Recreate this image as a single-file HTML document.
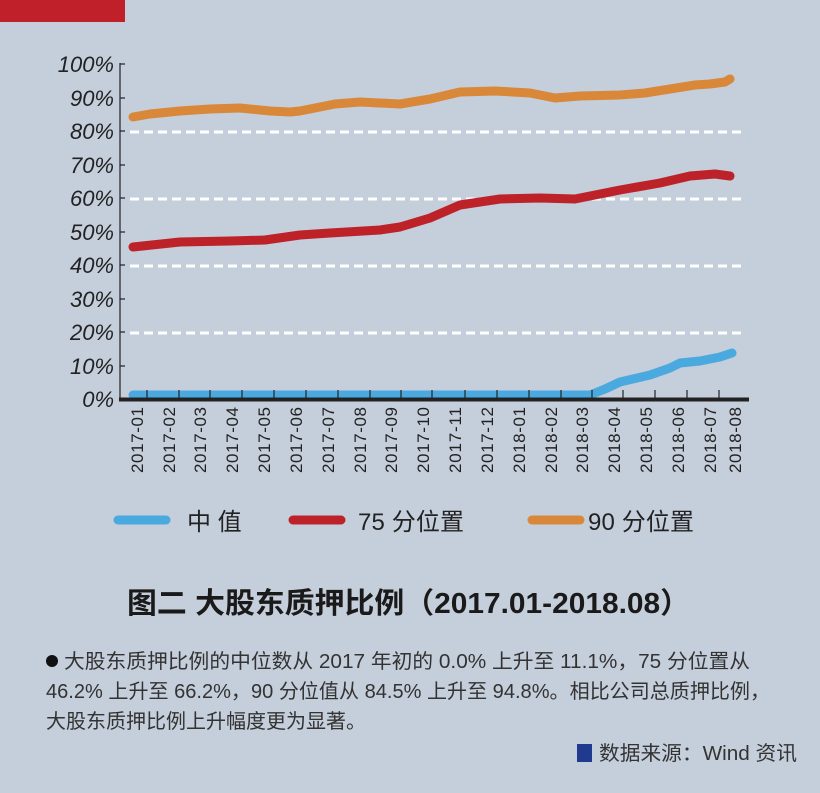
<!DOCTYPE html>
<html><head><meta charset="utf-8"><style>
html,body{margin:0;padding:0;background:#c5cedb;}
svg{display:block}
</style></head><body>
<svg width="820" height="793" xmlns="http://www.w3.org/2000/svg" font-family="'Liberation Sans','Noto Sans CJK SC',sans-serif">
<rect width="820" height="793" fill="#c5cedb"/>
<rect x="0" y="0" width="125" height="22" fill="#c0202a"/>
<g font-size="22" font-style="italic" fill="#222" text-anchor="end">
<text x="114" y="407">0%</text><text x="114" y="374">10%</text><text x="114" y="340">20%</text><text x="114" y="307">30%</text><text x="114" y="273">40%</text><text x="114" y="240">50%</text><text x="114" y="206">60%</text><text x="114" y="173">70%</text><text x="114" y="139">80%</text><text x="114" y="106">90%</text><text x="114" y="72">100%</text>
</g>
<g stroke="#222" stroke-width="1.2">
<line x1="120" y1="63" x2="120" y2="399"/>
<line x1="120" y1="64" x2="125" y2="64"/><line x1="120" y1="98" x2="125" y2="98"/><line x1="120" y1="131" x2="125" y2="131"/><line x1="120" y1="165" x2="125" y2="165"/><line x1="120" y1="198" x2="125" y2="198"/><line x1="120" y1="232" x2="125" y2="232"/><line x1="120" y1="265" x2="125" y2="265"/><line x1="120" y1="299" x2="125" y2="299"/><line x1="120" y1="332" x2="125" y2="332"/><line x1="120" y1="366" x2="125" y2="366"/>
</g>
<g stroke="#fff" stroke-width="3" stroke-dasharray="9,5">
<line x1="130" y1="132" x2="746" y2="132"/><line x1="130" y1="199" x2="746" y2="199"/><line x1="130" y1="266" x2="746" y2="266"/><line x1="130" y1="333" x2="746" y2="333"/>
</g>
<g fill="none" stroke-width="9" stroke-linecap="round" stroke-linejoin="round">
<polyline stroke="#d9883a" points="133,117 150,114 180,111 210,109 240,108 270,111 290,112 300,111 335,104 360,102 400,104 430,99 460,92 495,91 530,93 555,98 580,96 620,95 645,93 670,89 695,85 710,84 725,82 730,79"/>
<polyline stroke="#bd2229" points="133,247 180,242 230,241 265,240 300,235 330,233 380,230 400,227 430,218 460,205 500,199 540,198 575,199 620,190 660,183 690,176 715,174 730,176"/>
<polyline stroke="#4aaae0" points="133,395 590,395 605,389 620,382 650,375 670,368 680,363 700,361 720,357 732,353"/>
</g>
<line x1="119" y1="399.5" x2="749" y2="399.5" stroke="#222" stroke-width="4"/>
<g stroke="#222" stroke-width="1.2">
<line x1="147" y1="390" x2="147" y2="398"/><line x1="179" y1="390" x2="179" y2="398"/><line x1="210" y1="390" x2="210" y2="398"/><line x1="242" y1="390" x2="242" y2="398"/><line x1="274" y1="390" x2="274" y2="398"/><line x1="306" y1="390" x2="306" y2="398"/><line x1="338" y1="390" x2="338" y2="398"/><line x1="370" y1="390" x2="370" y2="398"/><line x1="401" y1="390" x2="401" y2="398"/><line x1="432" y1="390" x2="432" y2="398"/><line x1="465" y1="390" x2="465" y2="398"/><line x1="497" y1="390" x2="497" y2="398"/><line x1="529" y1="390" x2="529" y2="398"/><line x1="561" y1="390" x2="561" y2="398"/><line x1="592" y1="390" x2="592" y2="398"/><line x1="623" y1="390" x2="623" y2="398"/><line x1="655" y1="390" x2="655" y2="398"/><line x1="687" y1="390" x2="687" y2="398"/><line x1="719" y1="390" x2="719" y2="398"/>
</g>
<g font-size="17" fill="#222" text-anchor="end">
<text transform="translate(143,407) rotate(-90)" textLength="66">2017-01</text>
<text transform="translate(175,407) rotate(-90)" textLength="66">2017-02</text>
<text transform="translate(206,407) rotate(-90)" textLength="66">2017-03</text>
<text transform="translate(238,407) rotate(-90)" textLength="66">2017-04</text>
<text transform="translate(270,407) rotate(-90)" textLength="66">2017-05</text>
<text transform="translate(302,407) rotate(-90)" textLength="66">2017-06</text>
<text transform="translate(334,407) rotate(-90)" textLength="66">2017-07</text>
<text transform="translate(366,407) rotate(-90)" textLength="66">2017-08</text>
<text transform="translate(397,407) rotate(-90)" textLength="66">2017-09</text>
<text transform="translate(429,407) rotate(-90)" textLength="66">2017-10</text>
<text transform="translate(461,407) rotate(-90)" textLength="66">2017-11</text>
<text transform="translate(493,407) rotate(-90)" textLength="66">2017-12</text>
<text transform="translate(525,407) rotate(-90)" textLength="66">2018-01</text>
<text transform="translate(557,407) rotate(-90)" textLength="66">2018-02</text>
<text transform="translate(588,407) rotate(-90)" textLength="66">2018-03</text>
<text transform="translate(620,407) rotate(-90)" textLength="66">2018-04</text>
<text transform="translate(652,407) rotate(-90)" textLength="66">2018-05</text>
<text transform="translate(684,407) rotate(-90)" textLength="66">2018-06</text>
<text transform="translate(716,407) rotate(-90)" textLength="66">2018-07</text>
<text transform="translate(741,407) rotate(-90)" textLength="66">2018-08</text>
</g>
<g stroke-width="9" stroke-linecap="round">
<line x1="118" y1="520" x2="166" y2="520" stroke="#4aaae0"/>
<line x1="293" y1="520" x2="341" y2="520" stroke="#bd2229"/>
<line x1="532" y1="520" x2="580" y2="520" stroke="#d9883a"/>
</g>
<g font-size="24" fill="#222">
<text x="187" y="530">中 值</text>
<text x="358" y="530" textLength="106">75 分位置</text>
<text x="588" y="530" textLength="106">90 分位置</text>
</g>
<text x="127" y="613" font-size="29" font-weight="bold" fill="#1a1a1a" textLength="563" lengthAdjust="spacingAndGlyphs">图二 大股东质押比例（2017.01-2018.08）</text>
<circle cx="52" cy="661" r="6" fill="#111"/>
<g font-size="20" fill="#333">
<text x="64" y="668" textLength="686" lengthAdjust="spacingAndGlyphs">大股东质押比例的中位数从 2017 年初的 0.0% 上升至 11.1%，75 分位置从</text>
<text x="46" y="698" textLength="724" lengthAdjust="spacingAndGlyphs">46.2% 上升至 66.2%，90 分位值从 84.5% 上升至 94.8%。相比公司总质押比例，</text>
<text x="46" y="728" textLength="320" lengthAdjust="spacingAndGlyphs">大股东质押比例上升幅度更为显著。</text>
<text x="599" y="760" textLength="198" lengthAdjust="spacingAndGlyphs">数据来源：Wind 资讯</text>
</g>
<rect x="577" y="744" width="15" height="18" fill="#1f3a8f"/>
</svg>
</body></html>
